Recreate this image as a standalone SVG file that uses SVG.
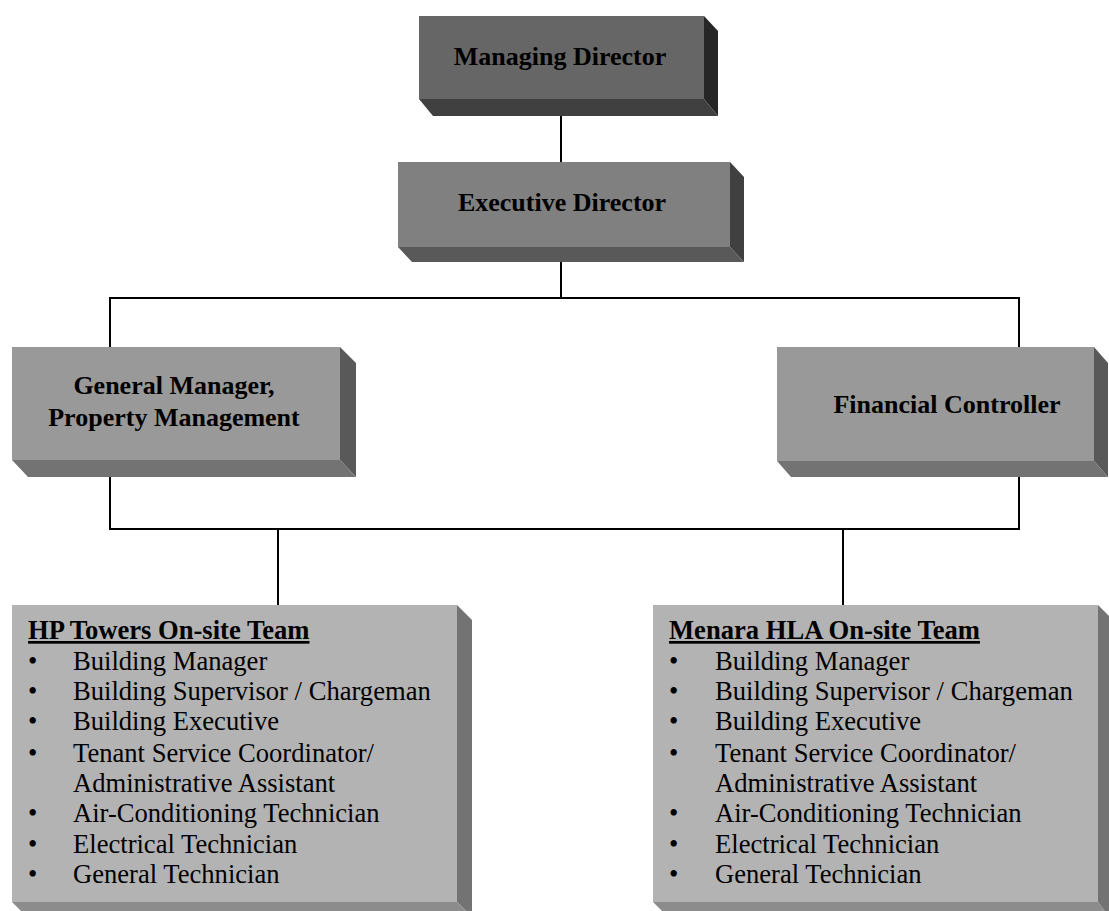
<svg xmlns="http://www.w3.org/2000/svg" width="1109" height="911" viewBox="0 0 1109 911">
<style>
.t{font-family:"Liberation Serif","Times New Roman",serif;fill:#000}
.b{font-weight:bold;font-size:26px}
.h{font-weight:bold;font-size:26.6px}
.r{font-size:26.6px}
.c{text-anchor:middle}
.ln{stroke:#000;stroke-width:2;fill:none}
</style>
<rect width="1109" height="911" fill="#fff"/>
<g id="connectors">
<line class="ln" x1="561" y1="116" x2="561" y2="162"/>
<polyline class="ln" points="561,262 561,298"/>
<polyline class="ln" points="110,347 110,298 1019,298 1019,347"/>
<polyline class="ln" points="110,477 110,529 1019,529 1019,477"/>
<line class="ln" x1="278" y1="529" x2="278" y2="605"/>
<line class="ln" x1="843" y1="529" x2="843" y2="605"/>
</g>
<g id="managing-director">
<polygon points="704,16 718,31 718,116 704,99" fill="#262626"/>
<polygon points="419,99 704,99 718,116 433,116" fill="#404040"/>
<rect x="419" y="16" width="285" height="83" fill="#666666"/>
<text class="t b c" x="560" y="65">Managing Director</text>
</g>
<g id="executive-director">
<polygon points="730,162 744,177 744,262 730,247" fill="#404040"/>
<polygon points="398,247 730,247 744,262 412,262" fill="#595959"/>
<rect x="398" y="162" width="332" height="85" fill="#808080"/>
<text class="t b c" x="562" y="211">Executive Director</text>
</g>
<g id="general-manager">
<polygon points="340,347 356,363 356,477 340,460" fill="#595959"/>
<polygon points="12,460 340,460 356,477 28,477" fill="#737373"/>
<rect x="12" y="347" width="328" height="113" fill="#999999"/>
<text class="t b c" x="174" y="394">General Manager,</text>
<text class="t b c" x="174" y="426">Property Management</text>
</g>
<g id="financial-controller">
<polygon points="1094,347 1108,363 1108,477 1094,461" fill="#595959"/>
<polygon points="777,461 1094,461 1108,477 791,477" fill="#737373"/>
<rect x="777" y="347" width="317" height="114" fill="#999999"/>
<text class="t b c" x="947" y="413">Financial Controller</text>
</g>
<g id="hp-towers-team">
<polygon points="457,605 472,620 472,917 457,902" fill="#737373"/>
<polygon points="12,902 457,902 472,917 27,917" fill="#8c8c8c"/>
<rect x="12" y="605" width="445" height="297" fill="#b3b3b3"/>
<text class="t h" x="28" y="639" text-decoration="underline">HP Towers On-site Team</text>
<g class="t r">
<text x="28" y="670">•</text><text x="73" y="670">Building Manager</text>
<text x="28" y="700">•</text><text x="73" y="700">Building Supervisor / Chargeman</text>
<text x="28" y="730">•</text><text x="73" y="730">Building Executive</text>
<text x="28" y="762">•</text><text x="73" y="762">Tenant Service Coordinator/</text>
<text x="73" y="792">Administrative Assistant</text>
<text x="28" y="822">•</text><text x="73" y="822">Air-Conditioning Technician</text>
<text x="28" y="853">•</text><text x="73" y="853">Electrical Technician</text>
<text x="28" y="883">•</text><text x="73" y="883">General Technician</text>
</g>
</g>
<g id="menara-hla-team">
<polygon points="1098,605 1109,616 1109,917 1098,902" fill="#737373"/>
<polygon points="653,902 1098,902 1109,917 668,917" fill="#8c8c8c"/>
<rect x="653" y="605" width="445" height="297" fill="#b3b3b3"/>
<text class="t h" x="669" y="639" text-decoration="underline">Menara HLA On-site Team</text>
<g class="t r">
<text x="669" y="670">•</text><text x="715" y="670">Building Manager</text>
<text x="669" y="700">•</text><text x="715" y="700">Building Supervisor / Chargeman</text>
<text x="669" y="730">•</text><text x="715" y="730">Building Executive</text>
<text x="669" y="762">•</text><text x="715" y="762">Tenant Service Coordinator/</text>
<text x="715" y="792">Administrative Assistant</text>
<text x="669" y="822">•</text><text x="715" y="822">Air-Conditioning Technician</text>
<text x="669" y="853">•</text><text x="715" y="853">Electrical Technician</text>
<text x="669" y="883">•</text><text x="715" y="883">General Technician</text>
</g>
</g>
</svg>
